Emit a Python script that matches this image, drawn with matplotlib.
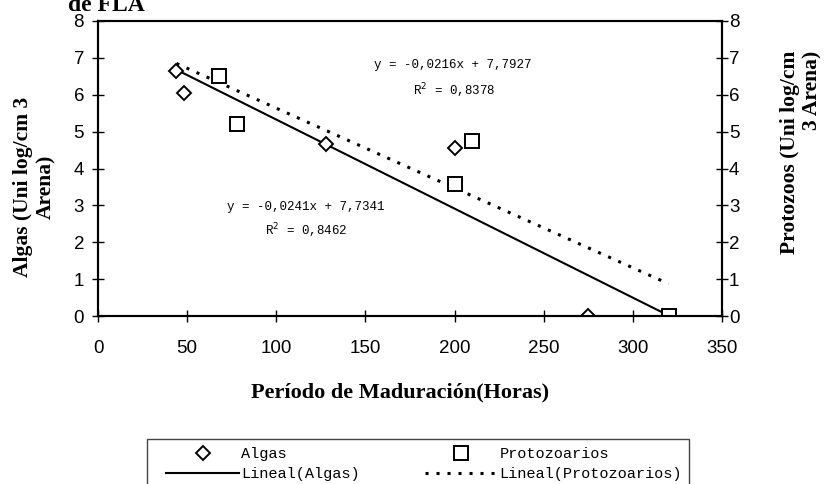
import numpy as np
import matplotlib
matplotlib.use("Agg")
import matplotlib.pyplot as plt
from matplotlib.patches import Rectangle

# values
algas_x = [44, 48, 128, 200, 275]
algas_y = [6.65, 6.05, 4.65, 4.55, 0.0]
proto_x = [68, 78, 200, 210, 320]
proto_y = [6.5, 5.2, 3.57, 4.75, 0.0]
# trendline coefficients (slope, intercept) as printed on the chart
algas_fit = (-0.0241, 7.7341)
proto_fit = (-0.0216, 7.7927)
fit_x = [44, 320]
algas_eq = ["y = -0,0241x + 7,7341", "R$^2$ = 0,8462"]
proto_eq = ["y = -0,0216x + 7,7927", "R$^2$ = 0,8378"]

SERIF = "Liberation Serif"; SANS = "Liberation Sans"; MONO = "Liberation Mono"
fig = plt.figure(figsize=(8.24, 4.84), dpi=100)
ax = fig.add_axes([98/824, 1-316.3/484, 624/824, 295.6/484])
ax2 = ax.twinx()

ax.plot(algas_x, algas_y, ls="none", marker="D", ms=7.5, mfc="white", mec="black", mew=1.4, label="Algas", zorder=4)
ax.plot(proto_x, proto_y, ls="none", marker="s", ms=9.5, mfc="white", mec="black", mew=1.4, label="Protozoarios", zorder=4)
fx = np.array(fit_x, float)
ax.plot(fx, algas_fit[0]*fx+algas_fit[1], color="black", lw=1.5, label="Lineal(Algas)", zorder=3)
ax.plot(fx, proto_fit[0]*fx+proto_fit[1], color="black", lw=2.2, ls=(0, (1, 2.6)), dash_capstyle="butt", label="Lineal(Protozoarios)", zorder=3)

ax.set_xlim(0, 350); ax.set_ylim(0, 8); ax2.set_ylim(0, 8)
ax.set_xticks(range(0, 351, 50)); ax.set_yticks(range(0, 9)); ax2.set_yticks(range(0, 9))
for a in (ax, ax2):
    for s in a.spines.values(): s.set_linewidth(1.5)
ax.tick_params(axis="x", direction="inout", length=8, width=1, pad=13, labelsize=13.5)
ax.tick_params(axis="y", direction="inout", length=8, width=1, pad=6, labelsize=13.5)
ax2.tick_params(axis="y", direction="inout", length=8, width=1, pad=1, labelsize=13.5)
for lab in ax.get_xticklabels()+ax.get_yticklabels()+ax2.get_yticklabels(): lab.set_fontfamily(SANS)

# trendline equations (data coordinates)
ax.text(199, 6.79, proto_eq[0], ha="center", va="center", fontsize=9, family=MONO)
ax.text(200, 6.11, proto_eq[1], ha="center", va="center", fontsize=9, family=MONO)
ax.text(116.5, 2.95, algas_eq[0], ha="center", va="center", fontsize=9, family=MONO)
ax.text(117, 2.31, algas_eq[1], ha="center", va="center", fontsize=9, family=MONO)

fig.text(68/824, 1-11/484, "de FLA", ha="left", va="baseline", fontsize=17, fontweight="bold", family=SERIF)
fig.text(35/824, 1-187/484, "Algas (Uni log/cm 3\nArena)", rotation=90, ha="center", va="center", multialignment="center",
         fontsize=15.5, fontweight="bold", family=SERIF)
fig.text(801/824, 1-152/484, "Protozoos (Uni log/cm\n3 Arena)", rotation=90, ha="center", va="center", multialignment="right",
         fontsize=15.5, fontweight="bold", family=SERIF)
fig.text(400/824, 1-392/484, "Período de Maduración(Horas)", ha="center", va="center", fontsize=16, fontweight="bold", family=SERIF)

# legend box (runs off the bottom edge like the reference)
fig.patches.append(Rectangle((147/824, -0.05), 542/824, 0.05+1-439/484, transform=fig.transFigure,
                             fill=False, edgecolor="#444444", linewidth=1.0))
h, l = ax.get_legend_handles_labels()
order = [0, 2, 1, 3]
leg = fig.legend([h[i] for i in order], [l[i] for i in order], ncol=2, loc="upper left", mode="expand",
                 bbox_to_anchor=(160/824, 0, 528/824, 1-441/484), prop={"family": MONO, "size": 11},
                 handlelength=4.8, handletextpad=0.1, borderpad=0.4, labelspacing=0.4, columnspacing=3,
                 frameon=False, borderaxespad=0)

fig.savefig("out.png", dpi=100)
